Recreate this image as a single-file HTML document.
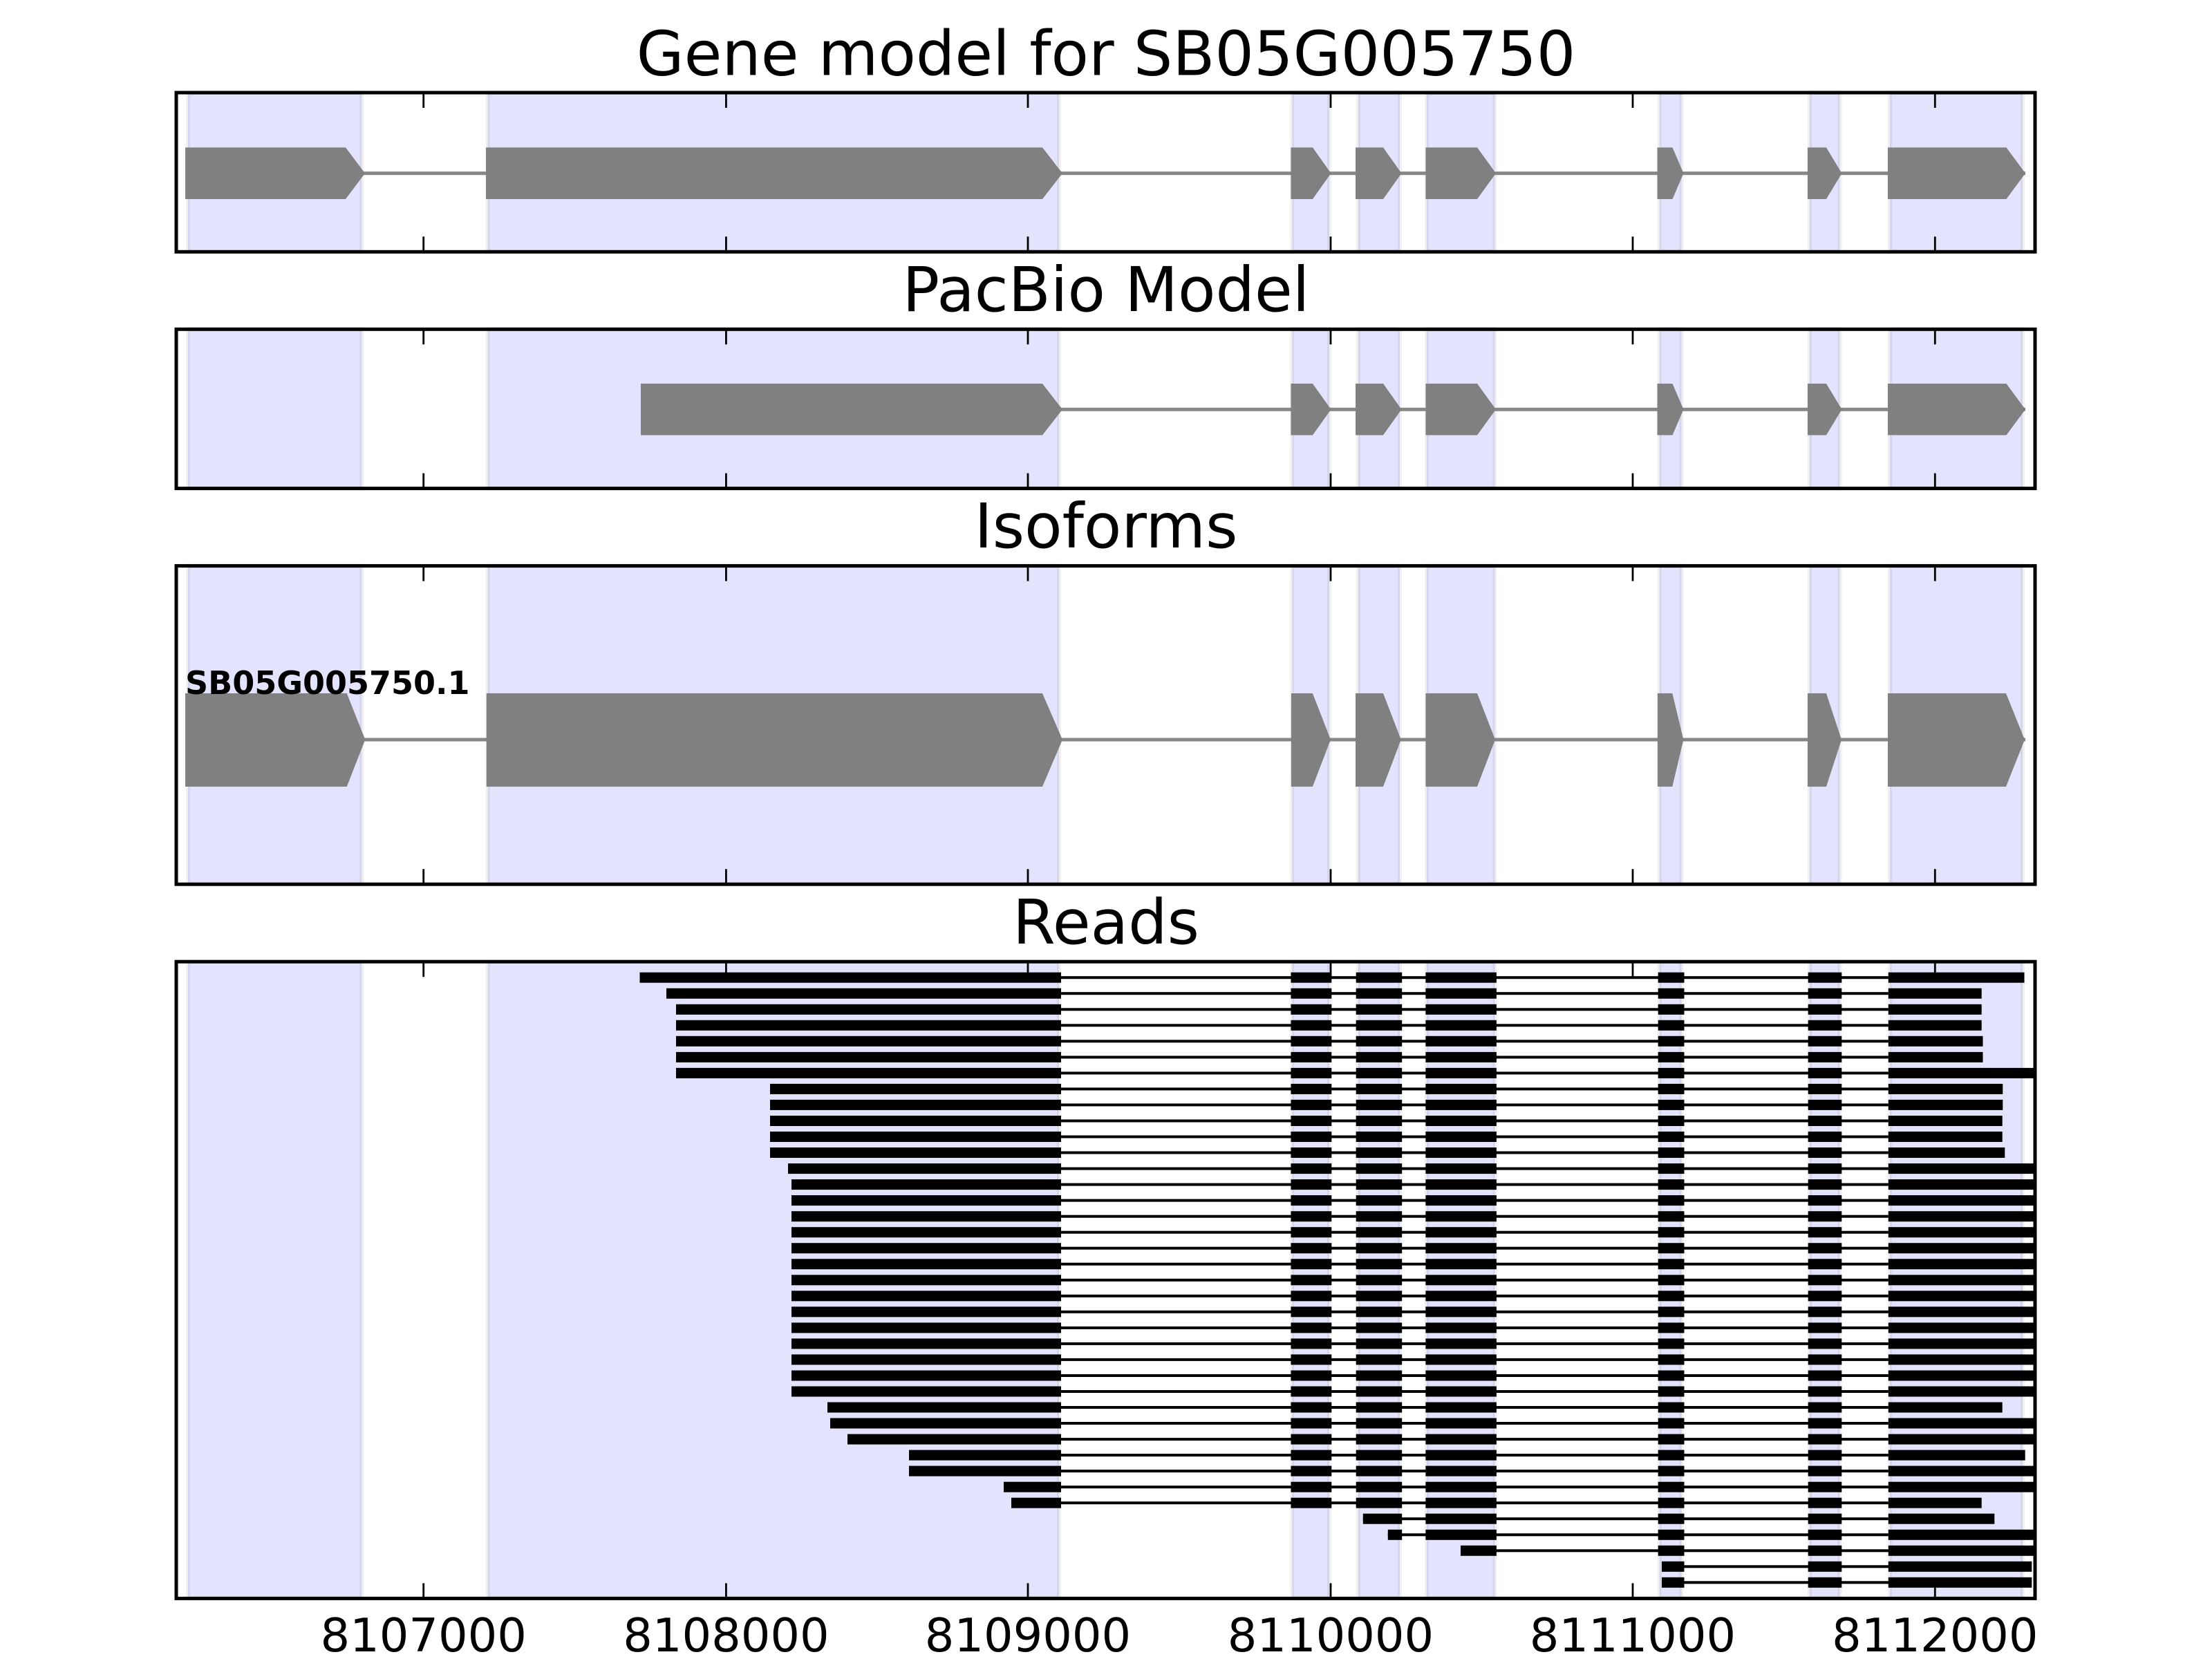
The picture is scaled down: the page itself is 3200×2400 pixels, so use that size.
<!DOCTYPE html>
<html>
<head>
<meta charset="utf-8">
<style>
html,body{margin:0;padding:0;background:#fff;}
svg{display:block;}
text{font-family:"DejaVu Sans","Liberation Sans",sans-serif;fill:#000;}
</style>
</head>
<body>
<svg width="3200" height="2400" viewBox="0 0 3200 2400" xmlns="http://www.w3.org/2000/svg">
<defs>
  <clipPath id="c4"><rect x="255" y="1391.2" width="2689" height="921.2"/></clipPath>
  <g id="mid">
    <rect x="1535" y="-2" width="1196.8" height="4"/>
    <rect x="1867.5" y="-7.5" width="58.8" height="15"/>
    <rect x="1961.7" y="-7.5" width="66.5" height="15"/>
    <rect x="2062.4" y="-7.5" width="102.5" height="15"/>
    <rect x="2398.7" y="-7.5" width="37.8" height="15"/>
    <rect x="2615.7" y="-7.5" width="48.6" height="15"/>
  </g>
</defs>
<rect x="0" y="0" width="3200" height="2400" fill="#fff"/>

<!-- ===== Band backgrounds for all axes ===== -->
<g fill="#e3e3fd" stroke="#000" stroke-opacity="0.06" stroke-width="6">
  <!-- Axes 1 -->
  <rect x="272" y="134" width="251.3" height="230.3"/>
  <rect x="705.7" y="134" width="826.3" height="230.3"/>
  <rect x="1869.3" y="134" width="53.6" height="230.3"/>
  <rect x="1965" y="134" width="60" height="230.3"/>
  <rect x="2064" y="134" width="98.5" height="230.3"/>
  <rect x="2400.7" y="134" width="31.8" height="230.3"/>
  <rect x="2618" y="134" width="43.5" height="230.3"/>
  <rect x="2734" y="134" width="192" height="230.3"/>
  <!-- Axes 2 -->
  <rect x="272" y="476.3" width="251.3" height="230.3"/>
  <rect x="705.7" y="476.3" width="826.3" height="230.3"/>
  <rect x="1869.3" y="476.3" width="53.6" height="230.3"/>
  <rect x="1965" y="476.3" width="60" height="230.3"/>
  <rect x="2064" y="476.3" width="98.5" height="230.3"/>
  <rect x="2400.7" y="476.3" width="31.8" height="230.3"/>
  <rect x="2618" y="476.3" width="43.5" height="230.3"/>
  <rect x="2734" y="476.3" width="192" height="230.3"/>
  <!-- Axes 3 -->
  <rect x="272" y="818.6" width="251.3" height="460.6"/>
  <rect x="705.7" y="818.6" width="826.3" height="460.6"/>
  <rect x="1869.3" y="818.6" width="53.6" height="460.6"/>
  <rect x="1965" y="818.6" width="60" height="460.6"/>
  <rect x="2064" y="818.6" width="98.5" height="460.6"/>
  <rect x="2400.7" y="818.6" width="31.8" height="460.6"/>
  <rect x="2618" y="818.6" width="43.5" height="460.6"/>
  <rect x="2734" y="818.6" width="192" height="460.6"/>
  <!-- Axes 4 -->
  <rect x="272" y="1391.2" width="251.3" height="921.2"/>
  <rect x="705.7" y="1391.2" width="826.3" height="921.2"/>
  <rect x="1869.3" y="1391.2" width="53.6" height="921.2"/>
  <rect x="1965" y="1391.2" width="60" height="921.2"/>
  <rect x="2064" y="1391.2" width="98.5" height="921.2"/>
  <rect x="2400.7" y="1391.2" width="31.8" height="921.2"/>
  <rect x="2618" y="1391.2" width="43.5" height="921.2"/>
  <rect x="2734" y="1391.2" width="192" height="921.2"/>
</g>

<!-- ===== Axes 1: Gene model ===== -->
<rect x="268" y="248.2" width="2662" height="5" fill="#878787"/>
<g fill="#808080">
  <polygon points="268,213.4 500,213.4 528,250.7 500,288 268,288"/>
  <polygon points="703,213.4 1508,213.4 1537,250.7 1508,288 703,288"/>
  <polygon points="1867.5,213.4 1899,213.4 1925.5,250.7 1899,288 1867.5,288"/>
  <polygon points="1961,213.4 2001,213.4 2027.5,250.7 2001,288 1961,288"/>
  <polygon points="2062.5,213.4 2137,213.4 2164,250.7 2137,288 2062.5,288"/>
  <polygon points="2397.5,213.4 2419.5,213.4 2435.5,250.7 2419.5,288 2397.5,288"/>
  <polygon points="2615,213.4 2642,213.4 2664.5,250.7 2642,288 2615,288"/>
  <polygon points="2731,213.4 2902.5,213.4 2930,250.7 2902.5,288 2731,288"/>
</g>

<!-- ===== Axes 2: PacBio ===== -->
<rect x="927" y="589.8" width="2003" height="5" fill="#878787"/>
<g fill="#808080">
  <polygon points="927,555 1508,555 1537,592.3 1508,629.5 927,629.5"/>
  <polygon points="1867.5,555 1899,555 1925.5,592.3 1899,629.5 1867.5,629.5"/>
  <polygon points="1961,555 2001,555 2027.5,592.3 2001,629.5 1961,629.5"/>
  <polygon points="2062.5,555 2137,555 2164,592.3 2137,629.5 2062.5,629.5"/>
  <polygon points="2397.5,555 2419.5,555 2435.5,592.3 2419.5,629.5 2397.5,629.5"/>
  <polygon points="2615,555 2642,555 2664.5,592.3 2642,629.5 2615,629.5"/>
  <polygon points="2731,555 2902.5,555 2930,592.3 2902.5,629.5 2731,629.5"/>
</g>

<!-- ===== Axes 3: Isoforms ===== -->
<rect x="268" y="1067.5" width="2662" height="5" fill="#878787"/>
<g fill="#808080">
  <polygon points="268,1003 501.7,1003 528.3,1070 501.7,1138 268,1138"/>
  <polygon points="703.7,1003 1508,1003 1537,1070 1508,1138 703.7,1138"/>
  <polygon points="1867.9,1003 1898.9,1003 1925,1070 1898.9,1138 1867.9,1138"/>
  <polygon points="1961,1003 2001,1003 2026.8,1070 2001,1138 1961,1138"/>
  <polygon points="2062.5,1003 2137,1003 2163,1070 2137,1138 2062.5,1138"/>
  <polygon points="2397.9,1003 2419.3,1003 2435.4,1070 2419.3,1138 2397.9,1138"/>
  <polygon points="2615,1003 2642,1003 2664,1070 2642,1138 2615,1138"/>
  <polygon points="2731,1003 2902,1003 2929,1070 2902,1138 2731,1138"/>
</g>
<text x="268" y="1004" font-size="46" font-weight="bold">SB05G005750.1</text>

<!-- ===== Axes 4: Reads ===== -->
<g clip-path="url(#c4)" fill="#000">
  <g transform="translate(0,1414.2)"><rect x="925.5" y="-7.5" width="609.5" height="15"/><use href="#mid"/><rect x="2731.8" y="-7.5" width="196.7" height="15"/></g>
  <g transform="translate(0,1437.2)"><rect x="964" y="-7.5" width="571" height="15"/><use href="#mid"/><rect x="2731.8" y="-7.5" width="134.9" height="15"/></g>
  <g transform="translate(0,1460.3)"><rect x="978" y="-7.5" width="557" height="15"/><use href="#mid"/><rect x="2731.8" y="-7.5" width="134.9" height="15"/></g>
  <g transform="translate(0,1483.3)"><rect x="978" y="-7.5" width="557" height="15"/><use href="#mid"/><rect x="2731.8" y="-7.5" width="134.9" height="15"/></g>
  <g transform="translate(0,1506.3)"><rect x="978" y="-7.5" width="557" height="15"/><use href="#mid"/><rect x="2731.8" y="-7.5" width="136.7" height="15"/></g>
  <g transform="translate(0,1529.4)"><rect x="978" y="-7.5" width="557" height="15"/><use href="#mid"/><rect x="2731.8" y="-7.5" width="136.7" height="15"/></g>
  <g transform="translate(0,1552.4)"><rect x="978" y="-7.5" width="557" height="15"/><use href="#mid"/><rect x="2731.8" y="-7.5" width="240" height="15"/></g>
  <g transform="translate(0,1575.4)"><rect x="1114" y="-7.5" width="421" height="15"/><use href="#mid"/><rect x="2731.8" y="-7.5" width="165.5" height="15"/></g>
  <g transform="translate(0,1598.4)"><rect x="1114" y="-7.5" width="421" height="15"/><use href="#mid"/><rect x="2731.8" y="-7.5" width="165.5" height="15"/></g>
  <g transform="translate(0,1621.5)"><rect x="1114" y="-7.5" width="421" height="15"/><use href="#mid"/><rect x="2731.8" y="-7.5" width="164.9" height="15"/></g>
  <g transform="translate(0,1644.5)"><rect x="1114" y="-7.5" width="421" height="15"/><use href="#mid"/><rect x="2731.8" y="-7.5" width="164.9" height="15"/></g>
  <g transform="translate(0,1667.5)"><rect x="1114" y="-7.5" width="421" height="15"/><use href="#mid"/><rect x="2731.8" y="-7.5" width="168.5" height="15"/></g>
  <g transform="translate(0,1690.6)"><rect x="1140" y="-7.5" width="395" height="15"/><use href="#mid"/><rect x="2731.8" y="-7.5" width="240" height="15"/></g>
  <g transform="translate(0,1713.6)"><rect x="1145" y="-7.5" width="390" height="15"/><use href="#mid"/><rect x="2731.8" y="-7.5" width="240" height="15"/></g>
  <g transform="translate(0,1736.6)"><rect x="1145" y="-7.5" width="390" height="15"/><use href="#mid"/><rect x="2731.8" y="-7.5" width="240" height="15"/></g>
  <g transform="translate(0,1759.7)"><rect x="1145" y="-7.5" width="390" height="15"/><use href="#mid"/><rect x="2731.8" y="-7.5" width="240" height="15"/></g>
  <g transform="translate(0,1782.7)"><rect x="1145" y="-7.5" width="390" height="15"/><use href="#mid"/><rect x="2731.8" y="-7.5" width="240" height="15"/></g>
  <g transform="translate(0,1805.7)"><rect x="1145" y="-7.5" width="390" height="15"/><use href="#mid"/><rect x="2731.8" y="-7.5" width="240" height="15"/></g>
  <g transform="translate(0,1828.7)"><rect x="1145" y="-7.5" width="390" height="15"/><use href="#mid"/><rect x="2731.8" y="-7.5" width="240" height="15"/></g>
  <g transform="translate(0,1851.8)"><rect x="1145" y="-7.5" width="390" height="15"/><use href="#mid"/><rect x="2731.8" y="-7.5" width="240" height="15"/></g>
  <g transform="translate(0,1874.8)"><rect x="1145" y="-7.5" width="390" height="15"/><use href="#mid"/><rect x="2731.8" y="-7.5" width="240" height="15"/></g>
  <g transform="translate(0,1897.8)"><rect x="1145" y="-7.5" width="390" height="15"/><use href="#mid"/><rect x="2731.8" y="-7.5" width="240" height="15"/></g>
  <g transform="translate(0,1920.9)"><rect x="1145" y="-7.5" width="390" height="15"/><use href="#mid"/><rect x="2731.8" y="-7.5" width="240" height="15"/></g>
  <g transform="translate(0,1943.9)"><rect x="1145" y="-7.5" width="390" height="15"/><use href="#mid"/><rect x="2731.8" y="-7.5" width="240" height="15"/></g>
  <g transform="translate(0,1966.9)"><rect x="1145" y="-7.5" width="390" height="15"/><use href="#mid"/><rect x="2731.8" y="-7.5" width="240" height="15"/></g>
  <g transform="translate(0,1990.0)"><rect x="1145" y="-7.5" width="390" height="15"/><use href="#mid"/><rect x="2731.8" y="-7.5" width="240" height="15"/></g>
  <g transform="translate(0,2013.0)"><rect x="1145" y="-7.5" width="390" height="15"/><use href="#mid"/><rect x="2731.8" y="-7.5" width="240" height="15"/></g>
  <g transform="translate(0,2036.0)"><rect x="1197" y="-7.5" width="338" height="15"/><use href="#mid"/><rect x="2731.8" y="-7.5" width="164.9" height="15"/></g>
  <g transform="translate(0,2059.0)"><rect x="1201" y="-7.5" width="334" height="15"/><use href="#mid"/><rect x="2731.8" y="-7.5" width="240" height="15"/></g>
  <g transform="translate(0,2082.1)"><rect x="1226" y="-7.5" width="309" height="15"/><use href="#mid"/><rect x="2731.8" y="-7.5" width="240" height="15"/></g>
  <g transform="translate(0,2105.1)"><rect x="1315" y="-7.5" width="220" height="15"/><use href="#mid"/><rect x="2731.8" y="-7.5" width="197.9" height="15"/></g>
  <g transform="translate(0,2128.1)"><rect x="1315" y="-7.5" width="220" height="15"/><use href="#mid"/><rect x="2731.8" y="-7.5" width="240" height="15"/></g>
  <g transform="translate(0,2151.2)"><rect x="1452" y="-7.5" width="83" height="15"/><use href="#mid"/><rect x="2731.8" y="-7.5" width="240" height="15"/></g>
  <g transform="translate(0,2174.2)"><rect x="1463" y="-7.5" width="72" height="15"/><use href="#mid"/><rect x="2731.8" y="-7.5" width="134.9" height="15"/></g>
  <!-- row 34 -->
  <g transform="translate(0,2197.2)">
    <rect x="1971.8" y="-2" width="760" height="4"/>
    <rect x="1971.8" y="-7.5" width="56.4" height="15"/>
    <rect x="2062.4" y="-7.5" width="102.5" height="15"/>
    <rect x="2398.7" y="-7.5" width="37.8" height="15"/>
    <rect x="2615.7" y="-7.5" width="48.6" height="15"/>
    <rect x="2731.8" y="-7.5" width="153.5" height="15"/>
  </g>
  <!-- row 35 -->
  <g transform="translate(0,2220.3)">
    <rect x="2007.8" y="-2" width="724" height="4"/>
    <rect x="2007.8" y="-7.5" width="20.4" height="15"/>
    <rect x="2062.4" y="-7.5" width="102.5" height="15"/>
    <rect x="2398.7" y="-7.5" width="37.8" height="15"/>
    <rect x="2615.7" y="-7.5" width="48.6" height="15"/>
    <rect x="2731.8" y="-7.5" width="240" height="15"/>
  </g>
  <!-- row 36 -->
  <g transform="translate(0,2243.3)">
    <rect x="2113" y="-2" width="619" height="4"/>
    <rect x="2113" y="-7.5" width="51.9" height="15"/>
    <rect x="2398.7" y="-7.5" width="37.8" height="15"/>
    <rect x="2615.7" y="-7.5" width="48.6" height="15"/>
    <rect x="2731.8" y="-7.5" width="240" height="15"/>
  </g>
  <!-- row 37 -->
  <g transform="translate(0,2266.3)">
    <rect x="2404" y="-2" width="328" height="4"/>
    <rect x="2404" y="-7.5" width="32.5" height="15"/>
    <rect x="2615.7" y="-7.5" width="48.6" height="15"/>
    <rect x="2731.8" y="-7.5" width="207.5" height="15"/>
  </g>
  <!-- row 38 -->
  <g transform="translate(0,2289.3)">
    <rect x="2404" y="-2" width="328" height="4"/>
    <rect x="2404" y="-7.5" width="32.5" height="15"/>
    <rect x="2615.7" y="-7.5" width="48.6" height="15"/>
    <rect x="2731.8" y="-7.5" width="207.5" height="15"/>
  </g>
</g>

<!-- ===== Ticks ===== -->
<g stroke="#000" stroke-width="2.8">
  <path d="M612.7 134v22M1050.4 134v22M1487 134v22M1925 134v22M2362 134v22M2799.3 134v22"/>
  <path d="M612.7 364.3v-22M1050.4 364.3v-22M1487 364.3v-22M1925 364.3v-22M2362 364.3v-22M2799.3 364.3v-22"/>
  <path d="M612.7 476.3v22M1050.4 476.3v22M1487 476.3v22M1925 476.3v22M2362 476.3v22M2799.3 476.3v22"/>
  <path d="M612.7 706.6v-22M1050.4 706.6v-22M1487 706.6v-22M1925 706.6v-22M2362 706.6v-22M2799.3 706.6v-22"/>
  <path d="M612.7 818.6v22M1050.4 818.6v22M1487 818.6v22M1925 818.6v22M2362 818.6v22M2799.3 818.6v22"/>
  <path d="M612.7 1279.2v-22M1050.4 1279.2v-22M1487 1279.2v-22M1925 1279.2v-22M2362 1279.2v-22M2799.3 1279.2v-22"/>
  <path d="M612.7 1391.2v22M1050.4 1391.2v22M1487 1391.2v22M1925 1391.2v22M2362 1391.2v22M2799.3 1391.2v22"/>
  <path d="M612.7 2312.4v-22M1050.4 2312.4v-22M1487 2312.4v-22M1925 2312.4v-22M2362 2312.4v-22M2799.3 2312.4v-22"/>
</g>

<!-- ===== Spines ===== -->
<g fill="none" stroke="#000" stroke-width="5">
  <rect x="255" y="134" width="2689" height="230.3"/>
  <rect x="255" y="476.3" width="2689" height="230.3"/>
  <rect x="255" y="818.6" width="2689" height="460.6"/>
  <rect x="255" y="1391.2" width="2689" height="921.2"/>
</g>

<!-- ===== Titles ===== -->
<g font-size="89" text-anchor="middle">
  <text x="1600" y="108.5">Gene model for SB05G005750</text>
  <text x="1600" y="450">PacBio Model</text>
  <text x="1600" y="792">Isoforms</text>
  <text x="1600" y="1365">Reads</text>
</g>

<!-- ===== Tick labels ===== -->
<g font-size="67" text-anchor="middle">
  <text x="612.7" y="2389">8107000</text>
  <text x="1050.4" y="2389">8108000</text>
  <text x="1487" y="2389">8109000</text>
  <text x="1925" y="2389">8110000</text>
  <text x="2362" y="2389">8111000</text>
  <text x="2799.3" y="2389">8112000</text>
</g>
</svg>
</body>
</html>
